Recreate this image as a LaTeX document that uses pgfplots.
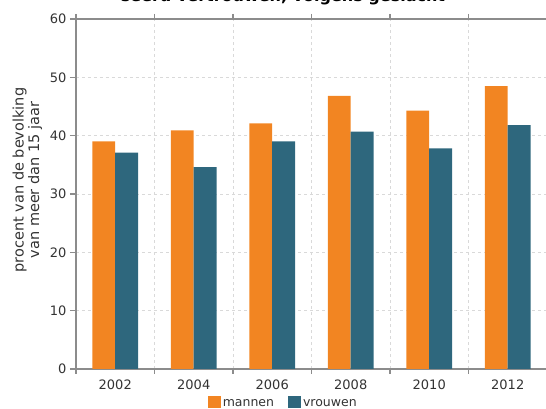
\documentclass[border=0pt]{standalone}
\usepackage{pgfplots}
\pgfplotsset{compat=1.18}
\usepackage{fontspec}
\setmainfont{DejaVu Sans}

\definecolor{oranje}{HTML}{F28522}
\definecolor{blauw}{HTML}{2E677D}
\definecolor{asgrijs}{HTML}{8C8C8C}
\definecolor{rooster}{HTML}{D9D9D9}
\definecolor{tekst}{HTML}{333333}

\begin{document}
\begin{tikzpicture}

\begin{axis}[
	at={(0,0)}, anchor=south west,
	scale only axis, width=471pt, height=350pt,
	ybar=0pt, bar width=0.29,
	xmin=-0.5, xmax=5.5, ymin=0, ymax=60,
	xtick={0,...,5},
	xticklabels={2002,2004,2006,2008,2010,2012},
	major x tick style={draw=none},
	minor xtick={-0.5,0.5,...,5.5},
	xminorgrids, ymajorgrids,
	ytick={0,10,...,60},
	tick align=outside,
	minor tick length=5pt, major tick length=6pt,
	every tick/.style={asgrijs, line width=1.2pt},
	grid style={rooster, dashed, line width=0.8pt},
	minor grid style={rooster, dashed, line width=0.8pt},
	axis line style={asgrijs, line width=1.8pt},
	tick label style={tekst, font=\fontsize{13}{15}\selectfont},
	/pgf/number format/assume math mode=true,
	xticklabel style={yshift=-1pt},
	ylabel={procent van de bevolking\\van meer dan 15 jaar},
	ylabel style={at={(ticklabel cs:0.54)}, align=center, tekst, font=\fontsize{14.5}{15.5}\selectfont, yshift=1pt},
	legend style={at={(axis description cs:0.44,0)}, anchor=center, yshift=-34pt,
		draw=none, fill=none, font=\fontsize{12.5}{14}\selectfont, text=tekst,
		/tikz/every even column/.append style={column sep=12pt}},
	legend columns=2,
	legend image code/.code={\fill[#1] (0pt,-5pt) rectangle (13pt,7pt);},
]

\addplot[fill=oranje, draw=none] coordinates {
	(0, 39.0) (1, 40.9) (2, 42.1) (3, 46.8) (4, 44.3) (5, 48.5)
};
\addplot[fill=blauw, draw=none] coordinates {
	(0, 37.1) (1, 34.6) (2, 39.0) (3, 40.7) (4, 37.8) (5, 41.8)
};

\legend{mannen, vrouwen}
\end{axis}

\node[font=\bfseries\fontsize{16}{18}\selectfont, text=black, anchor=base] at (207pt,367pt) {seerd vertrouwen, volgens geslacht};

\pgfresetboundingbox
\useasboundingbox (-76pt,-40pt) rectangle (470pt,369pt);
\end{tikzpicture}
\end{document}
